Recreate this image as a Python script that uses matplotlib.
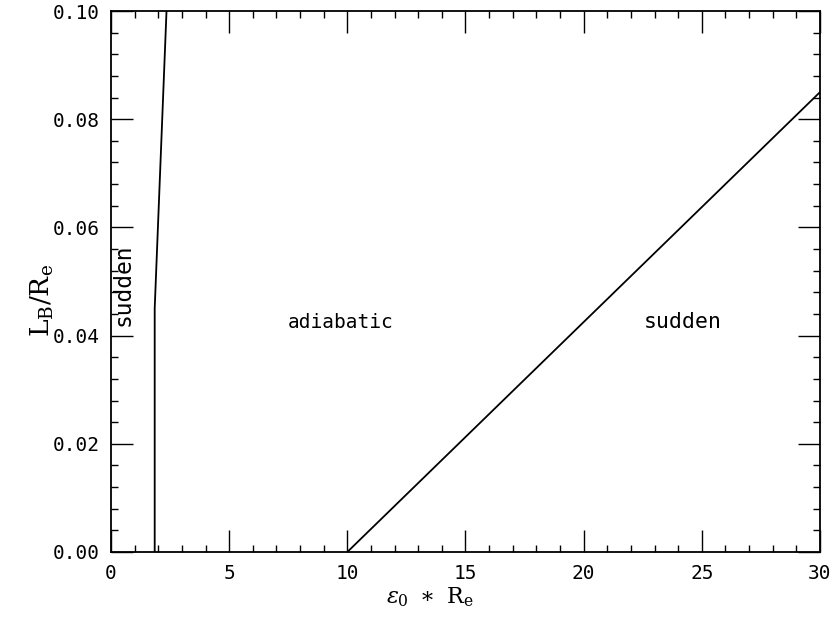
import matplotlib
matplotlib.use("Agg")
import matplotlib.pyplot as plt
from matplotlib.ticker import MultipleLocator

# Boundary between the adiabatic and sudden regimes
left_x = [1.85, 1.85, 2.35]
left_y = [0.0, 0.045, 0.10]
right_x = [10.0, 30.0]
right_y = [0.0, 0.085]

region_labels = ["sudden", "adiabatic", "sudden"]
region_x = [0.5, 9.73, 24.2]
region_y = [0.0494, 0.0425, 0.0425]
region_rot = [90, 0, 0]
region_size = [16.5, 14, 15.5]

x_ticks = [0, 5, 10, 15, 20, 25, 30]
y_ticks = [0.00, 0.02, 0.04, 0.06, 0.08, 0.10]

plt.rcParams["font.family"] = ["DejaVu Sans Mono"]
plt.rcParams["mathtext.fontset"] = "dejavuserif"
fig = plt.figure(figsize=(8.35, 6.18), dpi=100)
ax = fig.add_axes([0.1329, 0.1068, 0.8491, 0.8754])

ax.plot(left_x, left_y, color="black", lw=1.3)
ax.plot(right_x, right_y, color="black", lw=1.3)

for t, x, y, r, s in zip(region_labels, region_x, region_y, region_rot, region_size):
    ax.text(x, y, t, rotation=r, ha="center", va="center", fontsize=s)

ax.set_xlim(0, 30)
ax.set_ylim(0, 0.10)
ax.set_xticks(x_ticks)
ax.set_xticklabels([str(v) for v in x_ticks])
ax.set_yticks(y_ticks)
ax.set_yticklabels([f"{v:.2f}" for v in y_ticks])
ax.xaxis.set_minor_locator(MultipleLocator(1))
ax.yaxis.set_minor_locator(MultipleLocator(0.004))

ax.tick_params(which="both", direction="in", top=True, right=True, labelsize=14)
ax.tick_params(which="major", length=16, width=1.0)
ax.tick_params(which="minor", length=5, width=1.0)
ax.tick_params(axis="x", which="major", pad=9)
ax.tick_params(axis="y", which="major", pad=8)
for s in ax.spines.values():
    s.set_linewidth(1.3)

# Axis titles
ax.text(0.45, -0.083, r"$\epsilon_0\ \ast\ \mathrm{R_e}$", transform=ax.transAxes,
        ha="center", va="center", fontsize=16)
ax.text(-0.097, 0.465, r"$\mathrm{L_B/R_e}$", transform=ax.transAxes,
        ha="center", va="center", rotation=90, fontsize=19)

fig.savefig("out.png", dpi=100)
